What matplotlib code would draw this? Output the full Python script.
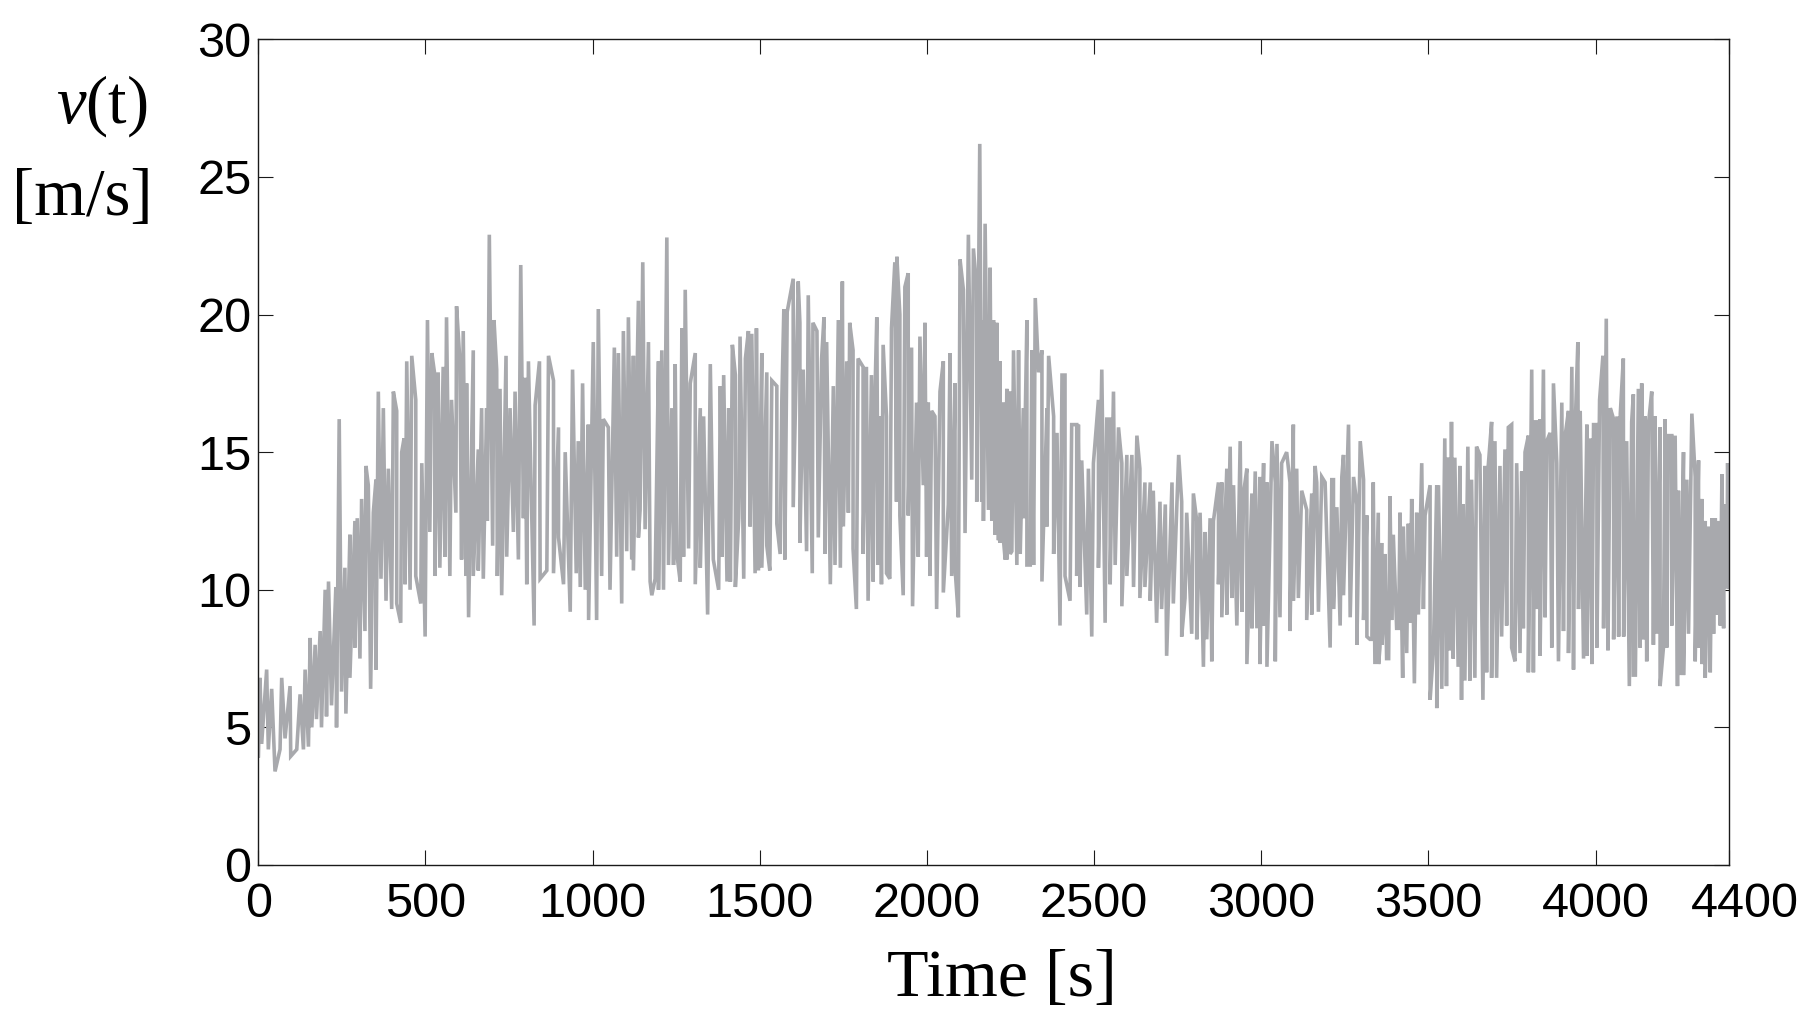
import numpy as np
import matplotlib
matplotlib.use("Agg")
import matplotlib.pyplot as plt
from matplotlib.transforms import ScaledTranslation

# ---- data (time in s, wind speed in m/s) ----
peak_t = [0, 5, 25, 40, 70, 95, 125, 140, 155, 170, 185, 200, 210, 232, 242, 259, 274, 289, 296, 309,
          322, 329, 344, 352, 359, 374, 389, 404, 414, 429, 436, 444, 459, 471, 489, 506, 519, 528, 538, 553,
          563, 578, 593, 603, 613, 623, 643, 658, 668, 683, 691, 705, 713, 723, 741, 753, 768, 785, 798, 808,
          828, 841, 868, 883, 898, 918, 940, 957, 970, 987, 1002, 1017, 1032, 1047, 1065, 1077, 1092, 1107, 1122, 1137,
          1150, 1167, 1197, 1207, 1222, 1237, 1247, 1267, 1277, 1292, 1307, 1322, 1332, 1352, 1382, 1392, 1407, 1418, 1427, 1441,
          1457, 1466, 1476, 1490, 1506, 1521, 1536, 1551, 1566, 1572, 1582, 1600, 1615, 1620, 1630, 1645, 1659, 1671, 1685, 1692,
          1700, 1720, 1735, 1747, 1760, 1769, 1779, 1794, 1809, 1819, 1834, 1844, 1850, 1859, 1869, 1879, 1894, 1904, 1910, 1919,
          1934, 1944, 1954, 1969, 1979, 1994, 2004, 2014, 2024, 2039, 2049, 2069, 2084, 2099, 2109, 2124, 2139, 2149, 2158, 2169,
          2174, 2189, 2199, 2209, 2219, 2229, 2239, 2249, 2259, 2274, 2289, 2299, 2314, 2324, 2334, 2344, 2359, 2364, 2379, 2389,
          2404, 2413, 2433, 2448, 2453, 2463, 2483, 2498, 2513, 2523, 2538, 2548, 2558, 2573, 2583, 2598, 2613, 2628, 2637, 2652,
          2668, 2677, 2697, 2713, 2733, 2753, 2762, 2777, 2797, 2807, 2817, 2832, 2847, 2857, 2872, 2882, 2897, 2907, 2917, 2937,
          2947, 2957, 2972, 2982, 2996, 3007, 3017, 3032, 3042, 3047, 3061, 3076, 3086, 3096, 3106, 3121, 3136, 3151, 3161, 3166,
          3181, 3191, 3211, 3216, 3226, 3241, 3246, 3261, 3276, 3286, 3296, 3306, 3316, 3335, 3350, 3360, 3370, 3385, 3395, 3415,
          3425, 3440, 3450, 3465, 3480, 3490, 3505, 3525, 3530, 3549, 3559, 3569, 3579, 3594, 3604, 3618, 3629, 3644, 3654, 3669,
          3679, 3689, 3699, 3714, 3729, 3739, 3749, 3764, 3779, 3789, 3799, 3809, 3819, 3824, 3834, 3844, 3854, 3864, 3874, 3884,
          3899, 3909, 3919, 3929, 3939, 3947, 3954, 3974, 3984, 3994, 4004, 4012, 4022, 4032, 4044, 4054, 4064, 4074, 4083, 4093,
          4108, 4113, 4128, 4138, 4148, 4158, 4168, 4178, 4193, 4208, 4218, 4228, 4238, 4248, 4263, 4273, 4288, 4298, 4308, 4318,
          4328, 4338, 4348, 4358, 4368, 4378, 4385, 4395]
peak_v = [5.9, 6.8, 7.1, 6.4, 6.8, 6.5, 6.2, 7.1, 8.25, 8.0, 8.5, 10.0, 10.3, 10.1, 16.2, 10.8, 12.0, 12.5, 12.6, 13.3,
          14.5, 13.8, 12.8, 14.0, 17.2, 16.6, 14.4, 17.2, 16.5, 15.0, 15.5, 18.3, 18.5, 16.9, 14.6, 19.8, 18.6, 17.8, 17.9, 18.1,
          19.9, 16.9, 20.3, 18.3, 19.4, 17.5, 18.7, 15.1, 16.6, 16.6, 22.9, 19.8, 18.0, 17.3, 18.5, 16.6, 17.2, 21.8, 17.7, 18.3,
          16.7, 18.3, 18.5, 17.6, 15.9, 15.0, 18.0, 15.4, 17.5, 16.0, 19.0, 20.2, 16.2, 15.9, 18.8, 18.6, 19.4, 19.9, 18.5, 20.5,
          21.9, 19.0, 18.3, 18.7, 22.8, 16.6, 18.2, 19.5, 20.9, 17.5, 18.6, 16.6, 16.3, 18.2, 17.4, 17.8, 16.6, 18.9, 17.8, 19.2,
          18.4, 19.4, 19.3, 19.5, 18.6, 17.9, 17.6, 17.4, 16.9, 20.2, 20.1, 21.3, 21.2, 19.7, 18.0, 20.7, 19.7, 19.4, 18.4, 19.9,
          19.0, 17.4, 19.8, 21.2, 18.3, 19.7, 18.7, 18.4, 18.1, 18.1, 17.8, 16.8, 19.9, 16.3, 18.9, 16.3, 19.5, 21.9, 22.1, 20.0,
          21.0, 21.5, 18.8, 16.8, 19.2, 19.7, 16.8, 16.5, 16.3, 17.2, 18.3, 18.6, 17.5, 22.0, 20.9, 22.9, 22.4, 20.9, 26.2, 19.8,
          23.3, 21.7, 19.8, 19.7, 18.3, 16.8, 17.3, 17.2, 18.7, 18.7, 16.6, 19.8, 18.7, 20.6, 17.9, 18.7, 16.6, 18.5, 16.3, 15.7,
          17.8, 17.8, 16.0, 16.0, 16.0, 14.7, 14.4, 14.6, 16.9, 18.0, 16.2, 16.2, 17.2, 15.9, 14.6, 14.9, 14.9, 15.6, 14.4, 13.9,
          13.9, 13.6, 13.2, 13.1, 13.9, 14.9, 13.2, 12.8, 13.5, 12.5, 12.8, 12.1, 12.6, 12.5, 13.9, 13.9, 14.4, 15.2, 13.8, 15.4,
          13.5, 14.4, 13.5, 14.3, 14.1, 14.6, 13.9, 15.4, 13.9, 15.3, 14.6, 15.0, 13.9, 16.0, 14.4, 13.6, 12.9, 13.5, 14.5, 13.9,
          14.1, 13.9, 14.0, 14.0, 13.0, 14.1, 14.9, 16.0, 14.1, 13.1, 15.4, 14.0, 12.7, 13.9, 12.8, 11.7, 11.3, 13.4, 12.0, 12.8,
          12.3, 12.4, 13.3, 12.8, 14.6, 12.7, 13.8, 13.8, 13.8, 15.5, 14.8, 16.1, 14.8, 14.5, 13.1, 15.2, 14.0, 15.2, 14.9, 14.5,
          14.5, 16.1, 15.4, 14.5, 15.1, 15.9, 16.0, 14.6, 14.3, 15.0, 15.6, 18.0, 16.1, 16.1, 16.2, 18.0, 15.4, 15.7, 17.5, 14.6,
          16.8, 15.6, 16.5, 18.1, 15.9, 19.0, 16.5, 16.0, 15.5, 16.0, 16.0, 16.9, 18.5, 19.85, 16.6, 16.2, 16.3, 16.4, 18.4, 15.4,
          16.1, 17.1, 17.3, 17.5, 16.3, 16.0, 17.2, 16.3, 15.9, 16.2, 15.6, 15.6, 15.6, 13.6, 15.0, 14.0, 16.4, 14.1, 14.7, 13.3,
          12.5, 12.3, 12.6, 12.6, 12.5, 14.2, 13.1, 14.6]

trough_t = [0, 10, 30, 50, 65, 80, 97, 115, 135, 150, 160, 174, 189, 204, 219, 234, 249, 262, 274, 289,
            304, 319, 336, 352, 367, 382, 399, 414, 426, 439, 454, 471, 486, 499, 513, 528, 543, 558, 573, 591,
            608, 621, 629, 643, 658, 673, 685, 701, 715, 728, 743, 763, 778, 793, 803, 825, 843, 863, 883, 898,
            913, 933, 951, 963, 978, 988, 1012, 1027, 1052, 1072, 1087, 1102, 1117, 1122, 1137, 1142, 1157, 1172, 1177, 1187,
            1197, 1212, 1227, 1242, 1252, 1262, 1272, 1287, 1307, 1322, 1344, 1361, 1377, 1387, 1402, 1412, 1427, 1437, 1452, 1471,
            1486, 1496, 1506, 1521, 1530, 1551, 1561, 1575, 1600, 1620, 1640, 1657, 1675, 1695, 1711, 1725, 1741, 1750, 1765, 1779,
            1789, 1809, 1824, 1839, 1854, 1864, 1879, 1889, 1909, 1919, 1929, 1944, 1957, 1974, 1989, 1999, 2009, 2029, 2049, 2064,
            2074, 2084, 2094, 2114, 2134, 2149, 2164, 2169, 2184, 2194, 2204, 2214, 2219, 2229, 2234, 2239, 2249, 2254, 2269, 2279,
            2289, 2299, 2309, 2319, 2344, 2359, 2379, 2398, 2413, 2428, 2448, 2458, 2478, 2493, 2513, 2533, 2548, 2563, 2583, 2598,
            2618, 2637, 2652, 2668, 2687, 2702, 2717, 2737, 2762, 2772, 2792, 2807, 2827, 2837, 2852, 2872, 2882, 2897, 2912, 2927,
            2942, 2957, 2972, 2987, 2996, 3007, 3017, 3042, 3056, 3086, 3096, 3111, 3136, 3151, 3171, 3206, 3216, 3236, 3246, 3266,
            3286, 3306, 3316, 3325, 3331, 3340, 3351, 3355, 3361, 3365, 3375, 3381, 3390, 3405, 3411, 3423, 3435, 3445, 3458, 3470,
            3485, 3505, 3515, 3525, 3540, 3554, 3564, 3574, 3589, 3599, 3609, 3624, 3639, 3663, 3674, 3689, 3704, 3719, 3734, 3749,
            3759, 3774, 3784, 3799, 3814, 3824, 3834, 3849, 3869, 3889, 3904, 3919, 3934, 3949, 3964, 3974, 3989, 4004, 4024, 4037,
            4054, 4069, 4084, 4101, 4113, 4119, 4133, 4143, 4153, 4173, 4183, 4193, 4203, 4213, 4228, 4245, 4253, 4263, 4278, 4298,
            4308, 4318, 4328, 4343, 4353, 4363, 4373, 4383, 4393, 4400]
trough_v = [3.9, 4.4, 4.2, 3.4, 4.2, 4.6, 3.95, 4.2, 4.2, 4.3, 5.0, 5.3, 5.0, 5.4, 5.8, 5.0, 6.3, 5.5, 6.8, 7.9,
            7.5, 8.5, 6.4, 7.1, 10.4, 9.6, 9.3, 9.5, 8.8, 10.2, 10.0, 10.5, 9.5, 8.3, 12.1, 10.5, 10.8, 11.2, 10.5, 12.8,
            11.1, 10.5, 9.0, 10.5, 10.7, 10.4, 12.5, 11.6, 10.5, 9.8, 11.2, 12.1, 11.1, 12.6, 10.2, 8.7, 10.4, 10.7, 10.6, 11.9,
            10.2, 9.2, 10.6, 10.1, 10.0, 8.9, 8.9, 10.5, 10.0, 11.2, 9.5, 11.4, 11.1, 10.7, 11.9, 12.9, 12.2, 10.3, 9.8, 10.4,
            10.0, 10.0, 10.9, 10.9, 11.3, 10.3, 11.2, 11.5, 10.2, 10.8, 9.1, 11.1, 10.0, 11.2, 10.3, 10.3, 10.1, 12.6, 10.4, 12.3,
            10.6, 10.7, 10.8, 11.6, 10.7, 12.4, 11.3, 11.1, 13.0, 11.7, 11.4, 10.6, 11.9, 11.3, 10.2, 10.9, 10.8, 12.3, 12.8, 11.5,
            9.3, 11.3, 9.6, 10.3, 10.9, 10.2, 10.6, 10.4, 13.2, 12.7, 9.8, 12.7, 9.4, 11.2, 13.8, 11.2, 10.5, 9.3, 9.9, 13.1,
            10.5, 10.8, 9.0, 12.06, 14.0, 13.2, 13.2, 12.5, 12.9, 12.5, 12.0, 11.8, 11.7, 11.8, 11.1, 11.1, 11.3, 11.4, 10.9, 11.3,
            12.6, 10.9, 10.9, 10.9, 10.3, 12.3, 11.3, 8.7, 10.5, 9.6, 10.5, 10.1, 9.1, 8.3, 10.8, 8.8, 10.2, 10.9, 9.4, 10.5,
            10.1, 9.7, 10.1, 9.6, 8.8, 9.3, 7.6, 9.5, 8.3, 9.7, 8.4, 8.2, 7.2, 8.2, 7.4, 10.2, 9.0, 9.1, 9.7, 8.7,
            9.2, 7.3, 8.6, 8.6, 7.3, 8.7, 7.2, 7.4, 9.0, 8.5, 9.6, 9.7, 8.9, 9.1, 9.2, 7.9, 9.3, 8.7, 9.8, 9.0,
            8.0, 8.9, 8.3, 8.2, 8.2, 7.3, 7.3, 7.9, 8.0, 8.8, 7.5, 7.5, 8.9, 8.6, 8.6, 6.8, 7.7, 8.8, 6.6, 9.1,
            9.3, 6.0, 7.8, 5.7, 6.4, 6.5, 7.8, 7.5, 7.2, 6.0, 6.7, 6.7, 6.8, 6.0, 7.0, 6.8, 6.8, 8.3, 8.7, 7.9,
            7.4, 7.7, 8.6, 7.0, 7.0, 9.3, 7.6, 9.0, 7.9, 7.4, 8.5, 7.7, 7.1, 9.3, 7.5, 7.6, 7.3, 7.9, 8.6, 7.8,
            8.2, 8.3, 8.3, 6.5, 6.9, 6.9, 7.9, 8.2, 7.4, 8.0, 8.4, 6.5, 7.9, 7.9, 8.7, 6.5, 6.9, 6.9, 8.4, 7.4,
            7.9, 7.3, 6.8, 7.0, 8.4, 9.1, 8.7, 8.6, 10.05, 10.1]

x_ticks = [0, 500, 1000, 1500, 2000, 2500, 3000, 3500, 4000, 4400]
y_ticks = [0, 5, 10, 15, 20, 25, 30]
x_label = "Time [s]"
y_label_top = "$v$(t)"
y_label_bottom = "[m/s]"

# ---- build the series (peaks and troughs merged in time order) ----
t_all = np.concatenate([np.asarray(peak_t, float), np.asarray(trough_t, float)])
v_all = np.concatenate([np.asarray(peak_v, float), np.asarray(trough_v, float)])
order = np.argsort(t_all, kind="stable")
t_all = t_all[order]
v_all = v_all[order]

plt.rcParams["mathtext.fontset"] = "custom"
plt.rcParams["mathtext.rm"] = "Liberation Serif"
plt.rcParams["mathtext.it"] = "Liberation Serif:italic"

W, H = 1807, 1024
fig = plt.figure(figsize=(W / 100, H / 100), dpi=100)
ax = fig.add_axes([258.3 / W, 1 - 865 / H, (1729.3 - 258.3) / W, (865 - 39.3) / H])

ax.plot(t_all, v_all, color="#a8a9ad", lw=2.6, solid_joinstyle="miter")

ax.set_xlim(0, 4400)
ax.set_ylim(0, 30)
ax.set_xticks(x_ticks)
ax.set_yticks(y_ticks)
ax.set_xticklabels([str(v) for v in x_ticks], family="Liberation Sans", fontsize=35)
ax.set_yticklabels([str(v) for v in y_ticks], family="Liberation Sans", fontsize=35)
ax.tick_params(axis="both", direction="in", length=11, width=0.8, color="#1a1a1a",
               top=True, right=True)
ax.tick_params(axis="x", pad=12)
ax.tick_params(axis="y", pad=5)
for s in ax.spines.values():
    s.set_linewidth(1.0)
    s.set_color("#1a1a1a")

# last x label sits a little to the right of its tick in the reference
last = ax.get_xticklabels()[-1]
last.set_transform(last.get_transform() + ScaledTranslation(0.16, 0, fig.dpi_scale_trans))

fig.text(1002 / W, 1 - 996 / H, x_label, family="Liberation Serif", fontsize=49,
         ha="center", va="baseline")
fig.text(148 / W, 1 - 123 / H, y_label_top, family="Liberation Serif", fontsize=48,
         ha="right", va="baseline")
fig.text(153 / W, 1 - 215 / H, y_label_bottom, family="Liberation Serif", fontsize=48,
         ha="right", va="baseline")

fig.savefig("out.png", dpi=100)
